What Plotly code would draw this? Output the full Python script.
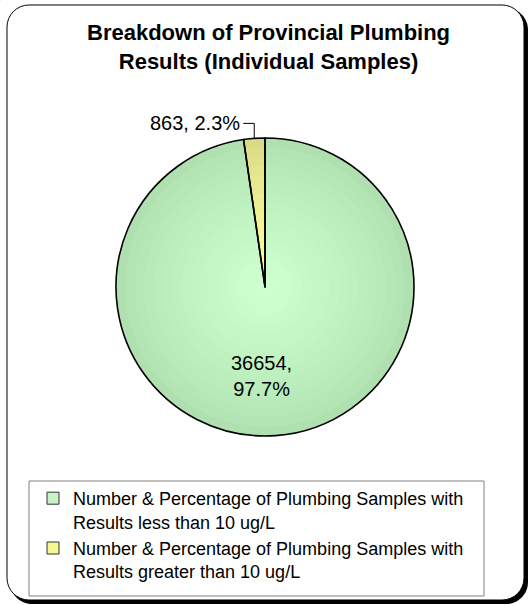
import math
import plotly.graph_objects as go

# Provincial plumbing results
categories = [
    "Number & Percentage of Plumbing Samples with<br>Results less than 10 ug/L",
    "Number & Percentage of Plumbing Samples with<br>Results greater than 10 ug/L",
]
counts = [36654, 863]
title_text = "Breakdown of Provincial Plumbing<br>Results (Individual Samples)"

W, H = 531, 605
FONT = "Liberation Sans, Arial, sans-serif"

# pie placement (pixels)
CX, CY, R = 265, 287, 149

edge_cols = [(176, 224, 176), (218, 218, 134)]
center_cols = [(206, 255, 206), (255, 255, 160)]


def px(x):
    return x / W


def py(y):
    return 1 - y / H


def mix(a, b, t):
    return "rgb(%d,%d,%d)" % tuple(round(a[i] + (b[i] - a[i]) * t) for i in range(3))


def domain_for(r):
    return dict(x=[px(CX - r), px(CX + r)], y=[py(CY + r), py(CY - r)])


fig = go.Figure()

# radial shading: stacked pies of shrinking radius, lighter towards the centre
N = 16
for k in range(N):
    r = R * (1 - k / N)
    t = (k / (N - 1)) ** 0.8
    fig.add_trace(go.Pie(
        labels=categories, values=counts, sort=False, direction="clockwise",
        rotation=0, domain=domain_for(r), textinfo="none", hoverinfo="skip",
        marker=dict(colors=[mix(edge_cols[i], center_cols[i], t) for i in range(2)],
                    line=dict(width=0)),
        showlegend=False,
    ))

# outline pie on top
fig.add_trace(go.Pie(
    labels=categories, values=counts, sort=False, direction="clockwise",
    rotation=0, domain=domain_for(R), textinfo="none",
    marker=dict(colors=["rgba(0,0,0,0)", "rgba(0,0,0,0)"],
                line=dict(color="black", width=1.6)),
    showlegend=False,
))

# legend-only trace (tiny pie tucked into the page corner) carrying the swatch colours
fig.add_trace(go.Pie(
    labels=categories, values=counts, sort=False, direction="clockwise",
    domain=dict(x=[0, 0.0001], y=[0.9999, 1]), textinfo="none",
    hoverinfo="skip",
    marker=dict(colors=["rgb(200,242,200)", "rgb(246,246,150)"],
                line=dict(color="#333333", width=1)),
    showlegend=True,
))

# data labels computed from slice geometry
total = sum(counts)
start = 0.0
mids = []
for v in counts:
    frac = v / total
    mids.append(start + frac * 180.0)
    start += frac * 360.0


def rim(theta_deg, rr):
    th = math.radians(theta_deg)
    return CX + rr * math.sin(th), CY - rr * math.cos(th)


annotations = []
shapes = []

# large slice: label inside
lx, ly = rim(mids[0], 0.59 * R)
annotations.append(dict(
    x=px(lx - 10), y=py(ly + 1), xref="paper", yref="paper", showarrow=False,
    text="{:d},<br>{:.1f}%".format(counts[0], 100 * counts[0] / total),
    font=dict(family=FONT, size=20, color="black"), align="center",
))

# small slice: label outside with leader line
sx, sy = rim(mids[1], R)
ky = sy - 15
kx = sx - 11
shapes.append(dict(
    type="path", xref="paper", yref="paper",
    path="M {},{} L {},{} L {},{}".format(px(sx), py(sy), px(sx), py(ky), px(kx), py(ky)),
    line=dict(color="black", width=1),
))
annotations.append(dict(
    x=px(kx - 1), y=py(ky), xref="paper", yref="paper", showarrow=False,
    xanchor="right", yanchor="middle",
    text="{:d}, {:.1f}%".format(counts[1], 100 * counts[1] / total),
    font=dict(family=FONT, size=20, color="black"),
))

# chart title
annotations.append(dict(
    x=px(268), y=py(18), xref="paper", yref="paper", showarrow=False,
    xanchor="center", yanchor="top", align="center",
    text="<b>" + title_text + "</b>",
    font=dict(family=FONT, size=22, color="black"),
))


def rounded_rect(x0, y0, x1, y1, rad):
    k = 0.5523 * rad
    pts = [
        ("M", [(x0 + rad, y0)]),
        ("L", [(x1 - rad, y0)]),
        ("C", [(x1 - rad + k, y0), (x1, y0 + rad - k), (x1, y0 + rad)]),
        ("L", [(x1, y1 - rad)]),
        ("C", [(x1, y1 - rad + k), (x1 - rad + k, y1), (x1 - rad, y1)]),
        ("L", [(x0 + rad, y1)]),
        ("C", [(x0 + rad - k, y1), (x0, y1 - rad + k), (x0, y1 - rad)]),
        ("L", [(x0, y0 + rad)]),
        ("C", [(x0, y0 + rad - k), (x0 + rad - k, y0), (x0 + rad, y0)]),
    ]
    out = []
    for cmd, ps in pts:
        out.append(cmd + " " + " ".join("{:.5f},{:.5f}".format(px(a), py(b)) for a, b in ps))
    return " ".join(out) + " Z"


# chart frame with drop shadow
shapes.insert(0, dict(type="path", xref="paper", yref="paper", layer="below",
                      path=rounded_rect(10, 8, 528, 604, 22),
                      fillcolor="black", line=dict(width=0)))
shapes.insert(1, dict(type="path", xref="paper", yref="paper", layer="below",
                      path=rounded_rect(7, 5, 524, 600, 22),
                      fillcolor="white", line=dict(color="black", width=1)))
# legend box
shapes.append(dict(type="rect", xref="paper", yref="paper", layer="below",
                   x0=px(29), x1=px(484), y0=py(596), y1=py(481),
                   line=dict(color="#808080", width=1), fillcolor="white"))

fig.update_layout(
    width=W, height=H,
    margin=dict(l=0, r=0, t=0, b=0),
    paper_bgcolor="white", plot_bgcolor="white",
    legend=dict(
        x=px(33), y=py(480), xanchor="left", yanchor="top",
        font=dict(family=FONT, size=18, color="black"),
        valign="top", bgcolor="rgba(0,0,0,0)", borderwidth=0,
        traceorder="normal", itemclick=False,
    ),
    shapes=shapes,
    annotations=annotations,
)

fig.write_html("out.html")
